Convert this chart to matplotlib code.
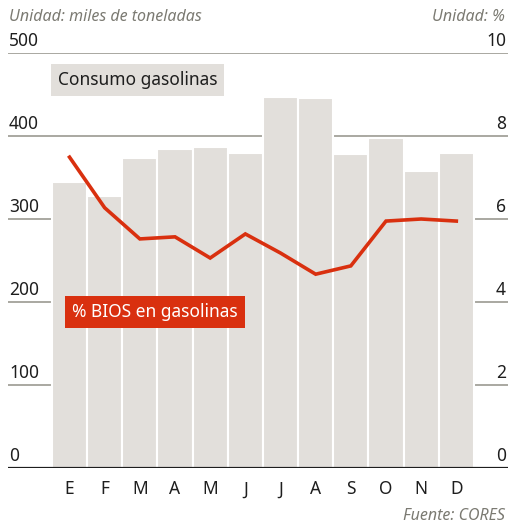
import numpy as np
import matplotlib.pyplot as plt
from matplotlib.transforms import blended_transform_factory

plt.rcParams['font.family'] = ['Noto Sans', 'DejaVu Sans']

meses = ['E', 'F', 'M', 'A', 'M', 'J', 'J', 'A', 'S', 'O', 'N', 'D']
consumo = [345, 328, 374, 384, 387, 380, 447, 446, 378, 398, 358, 380]
bios = [7.49, 6.27, 5.52, 5.57, 5.06, 5.64, 5.18, 4.67, 4.87, 5.95, 6.0, 5.95]
ticks_izq = [0, 100, 200, 300, 400, 500]
ticks_der = [0, 2, 4, 6, 8, 10]

gris_barra = '#e2dfdb'
gris_linea = '#a3a19a'
gris_texto = '#7b7a72'
rojo = '#d9300f'
oscuro = '#1e1e1e'

W, H = 508, 525
fig = plt.figure(figsize=(W / 100, H / 100), dpi=100)
ax = fig.add_axes([8 / W, 1 - 468 / H, 500 / W, 415 / H])

x = np.arange(len(meses))
ax.set_xlim(-1.75, 12.47)
ax.set_ylim(0, 500)

# lineas de referencia
for v in ticks_izq[1:]:
    ax.axhline(v, color=gris_linea, lw=1.3, zorder=0)
ax.axhline(0, color=oscuro, lw=1.6, zorder=3)

ax.bar(x, consumo, width=1.0, color=gris_barra, edgecolor='white', linewidth=1.5, zorder=1)

ax.set_xticks(x, meses, fontsize=12.5, color=oscuro)
ax.tick_params(axis='x', length=0, pad=9)
ax.set_yticks([])
for s in ax.spines.values():
    s.set_visible(False)

tr = blended_transform_factory(ax.transAxes, ax.transData)
for v in ticks_izq:
    ax.annotate(str(v), (0.002, v), xycoords=tr, xytext=(0, 2), textcoords='offset points',
                ha='left', va='bottom', fontsize=12.5, color=oscuro)

ax2 = ax.twinx()
ax2.set_ylim(0, 10)
ax2.set_yticks([])
for s in ax2.spines.values():
    s.set_visible(False)
ax2.plot(x, bios, color=rojo, lw=2.6, solid_joinstyle='miter', zorder=4)

tr2 = blended_transform_factory(ax2.transAxes, ax2.transData)
for v in ticks_der:
    ax2.annotate(str(v), (0.996, v), xycoords=tr2, xytext=(0, 2), textcoords='offset points',
                 ha='right', va='bottom', fontsize=12.5, color=oscuro)

ax2.text(0.1, 0.936, 'Consumo gasolinas', transform=ax2.transAxes,
         fontsize=12.5, color=oscuro, ha='left', va='center',
         bbox=dict(boxstyle='square,pad=0.4', fc=gris_barra, ec='none'))
ax2.text(0.128, 0.376, '% BIOS en gasolinas', transform=ax2.transAxes,
         fontsize=12.5, color='white', ha='left', va='center',
         bbox=dict(boxstyle='square,pad=0.4', fc=rojo, ec='none'))

fig.text(9 / W, 1 - 17 / H, 'Unidad: miles de toneladas', fontsize=11.5, style='italic',
         color=gris_texto, ha='left', va='center')
fig.text(505 / W, 1 - 17 / H, 'Unidad: %', fontsize=11.5, style='italic',
         color=gris_texto, ha='right', va='center')
fig.text(505 / W, 1 - 516 / H, 'Fuente: CORES', fontsize=11.5, style='italic',
         color=gris_texto, ha='right', va='center')

fig.savefig('out.png', dpi=100)
